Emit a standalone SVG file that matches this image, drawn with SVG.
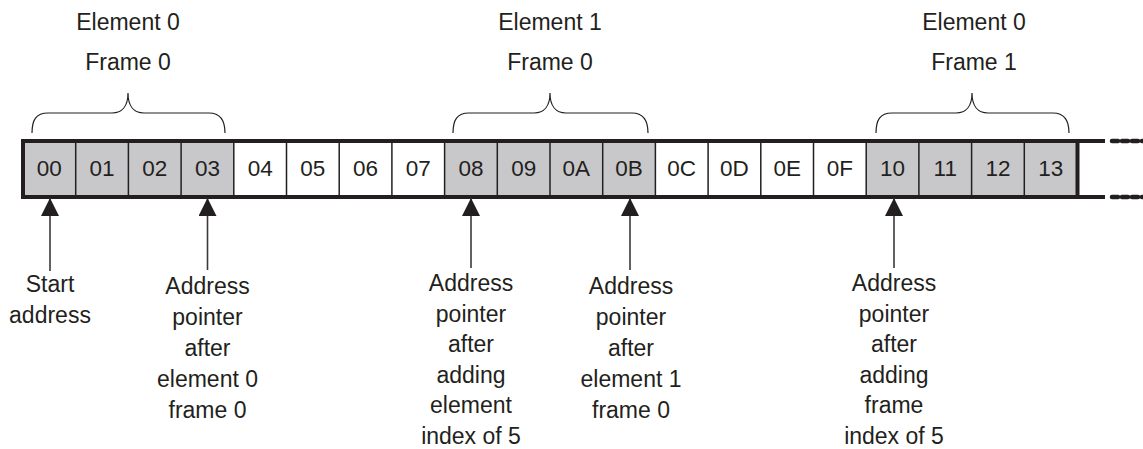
<svg xmlns="http://www.w3.org/2000/svg" width="1143" height="449" viewBox="0 0 1143 449">
<style>
.bg{fill:#ffffff}
.g{fill:#c8c8ca}
.w{fill:#ffffff}
.div{stroke:#231f20;stroke-width:1.5;fill:none}
.edge{stroke:#231f20;stroke-width:4;fill:none}
.dash{stroke:#231f20;stroke-width:4.5;fill:none;stroke-dasharray:6 4;stroke-linecap:round}
.brace{stroke:#231f20;stroke-width:1.2;fill:none}
.t{font-family:"Liberation Sans",Arial,sans-serif;fill:#231f20;text-anchor:middle}
.cell{font-size:22.5px}
.lbl{font-size:23px}
.arr{stroke:#3a3a3a;stroke-width:1.6;fill:none}
</style>
<defs>
<marker id="ah" markerUnits="userSpaceOnUse" markerWidth="18" markerHeight="18" viewBox="0 0 18 18" refX="18" refY="9" orient="auto">
<path d="M0,0 L18,9 L0,18 z" fill="#231f20"/>
</marker>
</defs>
<rect class="bg" x="0" y="0" width="1143" height="449"/>

<g id="array">
<g id="cell-00"><rect class="g" x="23" y="141" width="52.7" height="56"/><text class="t cell" x="49.35" y="176">00</text></g>
<g id="cell-01"><rect class="g" x="75.7" y="141" width="52.7" height="56"/><text class="t cell" x="102.05" y="176">01</text></g>
<g id="cell-02"><rect class="g" x="128.4" y="141" width="52.7" height="56"/><text class="t cell" x="154.75" y="176">02</text></g>
<g id="cell-03"><rect class="g" x="181.1" y="141" width="52.7" height="56"/><text class="t cell" x="207.45" y="176">03</text></g>
<g id="cell-04"><rect class="w" x="233.8" y="141" width="52.7" height="56"/><text class="t cell" x="260.15" y="176">04</text></g>
<g id="cell-05"><rect class="w" x="286.5" y="141" width="52.7" height="56"/><text class="t cell" x="312.85" y="176">05</text></g>
<g id="cell-06"><rect class="w" x="339.2" y="141" width="52.7" height="56"/><text class="t cell" x="365.55" y="176">06</text></g>
<g id="cell-07"><rect class="w" x="391.9" y="141" width="52.7" height="56"/><text class="t cell" x="418.25" y="176">07</text></g>
<g id="cell-08"><rect class="g" x="444.6" y="141" width="52.7" height="56"/><text class="t cell" x="470.95" y="176">08</text></g>
<g id="cell-09"><rect class="g" x="497.3" y="141" width="52.7" height="56"/><text class="t cell" x="523.65" y="176">09</text></g>
<g id="cell-0A"><rect class="g" x="550" y="141" width="52.7" height="56"/><text class="t cell" x="576.35" y="176">0A</text></g>
<g id="cell-0B"><rect class="g" x="602.7" y="141" width="52.7" height="56"/><text class="t cell" x="629.05" y="176">0B</text></g>
<g id="cell-0C"><rect class="w" x="655.4" y="141" width="52.7" height="56"/><text class="t cell" x="681.75" y="176">0C</text></g>
<g id="cell-0D"><rect class="w" x="708.1" y="141" width="52.7" height="56"/><text class="t cell" x="734.45" y="176">0D</text></g>
<g id="cell-0E"><rect class="w" x="760.8" y="141" width="52.7" height="56"/><text class="t cell" x="787.15" y="176">0E</text></g>
<g id="cell-0F"><rect class="w" x="813.5" y="141" width="52.7" height="56"/><text class="t cell" x="839.85" y="176">0F</text></g>
<g id="cell-10"><rect class="g" x="866.2" y="141" width="52.7" height="56"/><text class="t cell" x="892.55" y="176">10</text></g>
<g id="cell-11"><rect class="g" x="918.9" y="141" width="52.7" height="56"/><text class="t cell" x="945.25" y="176">11</text></g>
<g id="cell-12"><rect class="g" x="971.6" y="141" width="52.7" height="56"/><text class="t cell" x="997.95" y="176">12</text></g>
<g id="cell-13"><rect class="g" x="1024.3" y="141" width="52.7" height="56"/><text class="t cell" x="1050.65" y="176">13</text></g>
<path class="div" d="M75.7,141V197 M128.4,141V197 M181.1,141V197 M233.8,141V197 M286.5,141V197 M339.2,141V197 M391.9,141V197 M444.6,141V197 M497.3,141V197 M550,141V197 M602.7,141V197 M655.4,141V197 M708.1,141V197 M760.8,141V197 M813.5,141V197 M866.2,141V197 M918.9,141V197 M971.6,141V197 M1024.3,141V197"/>
<path class="edge" d="M21,141H1105 M21,197H1105 M23,139V199 M1077.5,139V199"/>
<path class="dash" d="M1112,141H1143 M1112,197H1143"/>
</g>

<g id="brace-e0f0">
<path class="brace" d="M32,133 C32,120 36,113 48,113 L112,113 C122,113 128,106 128,93 C128,106 134,113 144,113 L209,113 C220,113 225,120 225,133"/>
<text class="t lbl" x="128" y="30">Element 0</text>
<text class="t lbl" x="128" y="70">Frame 0</text>
</g>
<g id="brace-e1f0">
<path class="brace" d="M453,133 C453,120 457,113 469,113 L534,113 C544,113 550,106 550,93 C550,106 556,113 566,113 L632,113 C643,113 648,120 648,133"/>
<text class="t lbl" x="550" y="30">Element 1</text>
<text class="t lbl" x="550" y="70">Frame 0</text>
</g>
<g id="brace-e0f1">
<path class="brace" d="M876,133 C876,120 880,113 892,113 L956,113 C966,113 972,106 972,93 C972,106 978,113 988,113 L1053,113 C1064,113 1069,120 1069,133"/>
<text class="t lbl" x="974" y="30">Element 0</text>
<text class="t lbl" x="974" y="70">Frame 1</text>
</g>

<g id="connectors">
<path class="arr" marker-end="url(#ah)" d="M50,271V198"/>
<path class="arr" marker-end="url(#ah)" d="M207.5,270V198"/>
<path class="arr" marker-end="url(#ah)" d="M471,268V198"/>
<path class="arr" marker-end="url(#ah)" d="M630,270V198"/>
<path class="arr" marker-end="url(#ah)" d="M894,268V198"/>
</g>

<g id="label-start">
<text class="t lbl" x="50" y="292">Start</text>
<text class="t lbl" x="50" y="323">address</text>
</g>
<g id="label-after-e0f0">
<text class="t lbl" x="207.5" y="294">Address</text>
<text class="t lbl" x="207.5" y="325">pointer</text>
<text class="t lbl" x="207.5" y="356">after</text>
<text class="t lbl" x="207.5" y="387">element 0</text>
<text class="t lbl" x="207.5" y="418">frame 0</text>
</g>
<g id="label-add-element">
<text class="t lbl" x="471" y="291">Address</text>
<text class="t lbl" x="471" y="321.6">pointer</text>
<text class="t lbl" x="471" y="352.2">after</text>
<text class="t lbl" x="471" y="382.8">adding</text>
<text class="t lbl" x="471" y="413.4">element</text>
<text class="t lbl" x="471" y="444">index of 5</text>
</g>
<g id="label-after-e1f0">
<text class="t lbl" x="631" y="294">Address</text>
<text class="t lbl" x="631" y="325">pointer</text>
<text class="t lbl" x="631" y="356">after</text>
<text class="t lbl" x="631" y="387">element 1</text>
<text class="t lbl" x="631" y="418">frame 0</text>
</g>
<g id="label-add-frame">
<text class="t lbl" x="894" y="291">Address</text>
<text class="t lbl" x="894" y="321.6">pointer</text>
<text class="t lbl" x="894" y="352.2">after</text>
<text class="t lbl" x="894" y="382.8">adding</text>
<text class="t lbl" x="894" y="413.4">frame</text>
<text class="t lbl" x="894" y="444">index of 5</text>
</g>
</svg>
